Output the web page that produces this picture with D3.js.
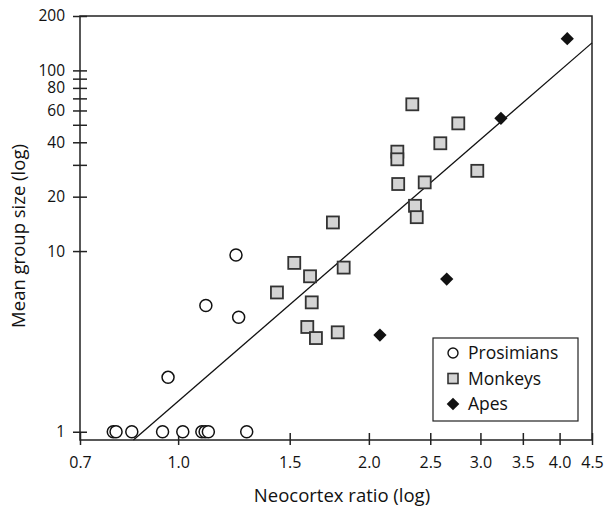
<!DOCTYPE html>
<html>
<head>
<meta charset="utf-8">
<script src="https://cdn.jsdelivr.net/npm/d3@7"></script>
<style>
  body { margin: 0; background: #fff; }
  text { font-family: "Open Sans", "Noto Sans", sans-serif; fill: #111; }
</style>
</head>
<body>
<div id="chart"></div>
<script>
// prosimians (neocortex ratio, mean group size)
var prosX = [0.79, 0.798, 0.845, 0.945, 1.017, 1.09, 1.103, 1.116, 1.283, 0.964, 1.106, 1.246, 1.234];
var prosY = [1, 1, 1, 1, 1, 1, 1, 1, 1, 2.0, 5.0, 4.3, 9.5];

// monkeys
var monkX = [2.342, 2.768, 2.593, 2.218, 2.218, 2.966, 2.225, 2.45, 2.365, 2.38, 1.755, 1.525, 1.825, 1.615, 1.432, 1.625, 1.599, 1.65, 1.786];
var monkY = [64.9, 50.9, 39.5, 35.5, 32.2, 27.8, 23.5, 24.0, 17.8, 15.4, 14.4, 8.6, 8.1, 7.25, 5.9, 5.2, 3.8, 3.3, 3.55];

// apes
var apeX = [2.082, 2.654, 3.232, 4.113];
var apeY = [3.43, 7.0, 54.3, 149.7];

// fitted line end points
var fitX = [0.85, 4.5];
var fitY = [0.9, 142];

// ticks
var xTicks = [0.7, 1.0, 1.5, 2.0, 2.5, 3.0, 3.5, 4.0, 4.5];
var yTicks = [1, 10, 20, 30, 40, 50, 60, 70, 80, 90, 100, 200];
var yLabels = [1, 10, 20, 40, 60, 80, 100, 200];

var groups = ["Prosimians", "Monkeys", "Apes"];

var margin = {top: 16, right: 18, bottom: 69, left: 80},
width = 610 - margin.left - margin.right,
height = 509 - margin.top - margin.bottom;

var svg = d3.select("#chart")
.append("svg")
.attr("width", 610)
.attr("height", 509)
.append("g")
.attr("transform", "translate(" + margin.left + "," + margin.top + ")");

var x = d3.scaleLog().domain([0.7, 4.5]).range([0, width]);
var y = d3.scaleLog().domain([0.9, 200]).range([height, 0]);

// frame
svg.append("rect")
.attr("width", width)
.attr("height", height)
.attr("fill", "none")
.attr("stroke", "#222")
.attr("stroke-width", 1.5);

// x axis
var gx = svg.append("g")
.attr("transform", "translate(0," + height + ")")
.call(d3.axisBottom(x).tickValues(xTicks).tickFormat(d3.format(".1f")).tickSize(5).tickPadding(12));
gx.select(".domain").remove();
gx.selectAll(".tick line").attr("y1", -7).attr("stroke", "#222").attr("stroke-width", 1.5);
gx.selectAll(".tick text").style("font-size", "16px").attr("fill", "#111");

// y axis (minor ticks carry no label)
var gy = svg.append("g")
.call(d3.axisLeft(y).tickValues(yTicks)
  .tickFormat(function(d) { return yLabels.indexOf(d) >= 0 ? d : ""; })
  .tickSize(7).tickPadding(8));
gy.select(".domain").remove();
gy.selectAll(".tick line").attr("x1", 7).attr("stroke", "#222").attr("stroke-width", 1.5);
gy.selectAll(".tick text")
.filter(function(d) { return yLabels.indexOf(d) < 0; }).remove();
gy.selectAll(".tick text").style("font-size", "15.5px").attr("fill", "#111");

// axis titles
svg.append("text")
.attr("x", width / 2 + 6)
.attr("y", height + 62)
.attr("text-anchor", "middle")
.style("font-size", "18.5px")
.text("Neocortex ratio (log)");

svg.append("text")
.attr("transform", "translate(" + (-55) + "," + (236 - margin.top) + ") rotate(-90)")
.attr("text-anchor", "middle")
.style("font-size", "18.5px")
.text("Mean group size (log)");

// regression line
svg.append("path")
.datum(d3.zip(fitX, fitY))
.attr("fill", "none")
.attr("stroke", "#111")
.attr("stroke-width", 1.3)
.attr("d", d3.line().x(function(d) { return x(d[0]); }).y(function(d) { return y(d[1]); }));

// points
svg.selectAll(".pros")
.data(d3.zip(prosX, prosY))
.enter().append("circle")
.attr("cx", function(d) { return x(d[0]); })
.attr("cy", function(d) { return y(d[1]); })
.attr("r", 6)
.attr("fill", "#fff")
.attr("stroke", "#111")
.attr("stroke-width", 1.5);

svg.selectAll(".monk")
.data(d3.zip(monkX, monkY))
.enter().append("rect")
.attr("x", function(d) { return x(d[0]) - 6; })
.attr("y", function(d) { return y(d[1]) - 6; })
.attr("width", 12)
.attr("height", 12)
.attr("fill", "#d4d4d4")
.attr("stroke", "#333")
.attr("stroke-width", 1.8);

svg.selectAll(".ape")
.data(d3.zip(apeX, apeY))
.enter().append("path")
.attr("d", d3.symbol().type(d3.symbolSquare).size(88))
.attr("transform", function(d) { return "translate(" + x(d[0]) + "," + y(d[1]) + ") rotate(45)"; })
.attr("fill", "#111");

// legend
var legend = svg.append("g")
.attr("transform", "translate(" + (433 - margin.left) + "," + (338 - margin.top) + ")");

legend.append("rect")
.attr("width", 145)
.attr("height", 83)
.attr("fill", "#fff")
.attr("stroke", "#222")
.attr("stroke-width", 1.2);

var item = legend.selectAll(".item")
.data(groups)
.enter().append("g")
.attr("transform", function(d, i) { return "translate(0," + (15 + i * 25.5) + ")"; });

item.each(function(d, i) {
  var g = d3.select(this);
  if (i == 0) {
    g.append("circle").attr("cx", 20).attr("cy", 0).attr("r", 5)
    .attr("fill", "#fff").attr("stroke", "#111").attr("stroke-width", 1.4);
  } else if (i == 1) {
    g.append("rect").attr("x", 15).attr("y", -5).attr("width", 10).attr("height", 10)
    .attr("fill", "#d4d4d4").attr("stroke", "#333").attr("stroke-width", 1.6);
  } else {
    g.append("path").attr("d", d3.symbol().type(d3.symbolSquare).size(80))
    .attr("transform", "translate(20,0) rotate(45)").attr("fill", "#111");
  }
});

item.append("text")
.attr("x", 35)
.attr("y", 0)
.attr("dy", "0.35em")
.style("font-size", "17.5px")
.text(function(d) { return d; });
</script>
</body>
</html>
